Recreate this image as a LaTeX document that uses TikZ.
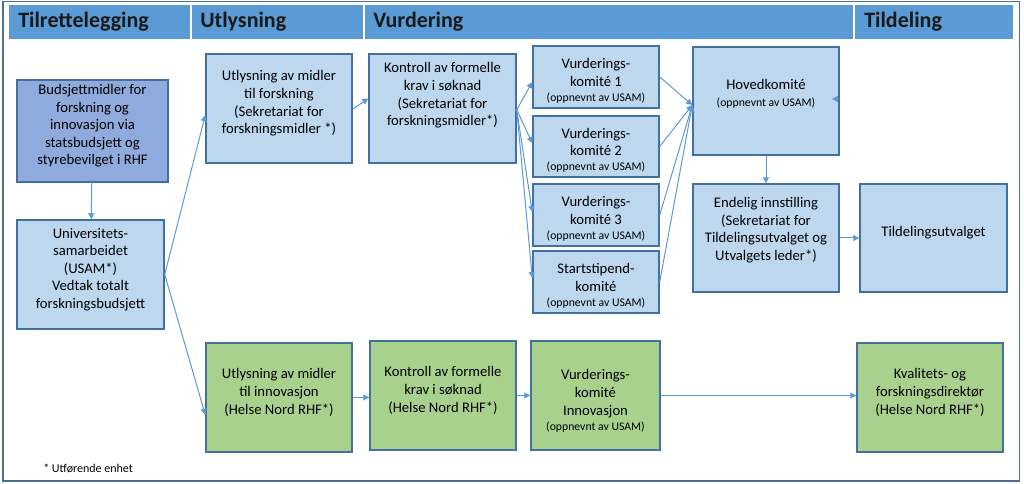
\documentclass[tikz,border=0pt]{standalone}
\usepackage{fontspec}
\setmainfont{Carlito}
\usetikzlibrary{fit,arrows.meta}
\definecolor{band}{HTML}{5B9BD5}
\definecolor{lblue}{HTML}{BDD7EE}
\definecolor{mblue}{HTML}{8FAADC}
\definecolor{lgreen}{HTML}{A9D18E}
\definecolor{bord}{HTML}{41719C}
\definecolor{arrc}{HTML}{5B9BD5}
\definecolor{frm}{HTML}{4F6F8F}
\newcommand\mainsz{\fontsize{11}{13.2}\selectfont}
\newcommand\smsz{\fontsize{8.8}{10.5}\selectfont}
\newcommand\hdsz{\fontsize{16.5}{19}\selectfont\bfseries}
\tikzset{
  box/.style={draw=bord, line width=1.1pt, fill=lblue, inner sep=0pt, align=center, font=\mainsz, text=black},
  gbox/.style={box, fill=lgreen},
  txt/.style={align=center, font=\mainsz, inner sep=0pt, text=black},
  hd/.style={anchor=west, font=\hdsz, text=black!90, inner sep=0pt},
  arr/.style={draw=arrc, line width=0.75pt, -{Triangle[length=4.5pt,width=4.5pt]}},
}
\begin{document}
\begin{tikzpicture}[x=0.75pt,y=-0.75pt]
\useasboundingbox (0,0) rectangle (1024,484);
\fill[white] (0,0) rectangle (1024,484);
% outer frame
\draw[frm, line width=1.2pt] (3,1.5) rectangle (1019.5,481);
% header band
\fill[band] (9,5) rectangle (1013,39);
\foreach \xx in {191,364,854} \draw[white, line width=1.5pt] (\xx,5) -- (\xx,39);
\node[hd] (h1) at (18,22) {Tilrettelegging};
\node[hd] (h2) at (200,22) {Utlysning};
\node[hd] (h3) at (373,22) {Vurdering};
\node[hd] (h4) at (864,22) {Tildeling};
% boxes
\node[box, fill=mblue, fit={(17,80) (168,182)}] (bud) {Budsjettmidler for\\forskning og\\innovasjon via\\statsbudsjett og\\styrebevilget i RHF};
\node[box, fit={(17,220) (164,329)}] (uni) {Universitets-\\samarbeidet\\(USAM*)\\Vedtak totalt\\forskningsbudsjett};
\node[box, fit={(206,54) (352,163)}] (utl) {Utlysning av midler\\til forskning\\(Sekretariat for\\forskningsmidler *)};
\node[box, fit={(369,54) (516,163)}, label={[txt,yshift=9.75pt]center:{Kontroll av formelle\\krav i søknad\\(Sekretariat for\\forskningsmidler*)}}] (kon) {};
\node[box, fit={(533,46) (659,108)}, label={[txt,yshift=-3pt]center:{Vurderings-\\komité 1\\[-2pt]{\smsz (oppnevnt av USAM)}}}] (vk1) {};
\node[box, fit={(533,116) (659,177)}, label={[txt,yshift=-3pt]center:{Vurderings-\\komité 2\\[-2pt]{\smsz (oppnevnt av USAM)}}}] (vk2) {};
\node[box, fit={(533,184) (659,246)}, label={[txt,yshift=-3pt]center:{Vurderings-\\komité 3\\[-2pt]{\smsz (oppnevnt av USAM)}}}] (vk3) {};
\node[box, fit={(533,251) (659,313)}, label={[txt,yshift=-3pt]center:{Startstipend-\\komité\\[-2pt]{\smsz (oppnevnt av USAM)}}}] (ss) {};
\node[box, fit={(693,47) (839,155)}, label={[txt,yshift=5.25pt]center:{Hovedkomité\\{\smsz (oppnevnt av USAM)}}}] (hov) {};
\node[box, fit={(693,184) (839,292)}, label={[txt,yshift=6pt]center:{Endelig innstilling\\(Sekretariat for\\Tildelingsutvalget og\\Utvalgets leder*)}}] (end) {};
\node[box, fit={(860,184) (1007,292)}] (til) {Tildelingsutvalget};
\node[gbox, fit={(206,343) (352,452)}] (gutl) {Utlysning av midler\\til innovasjon\\(Helse Nord RHF*)};
\node[gbox, fit={(370,341) (516,450)}] (gkon) {Kontroll av formelle\\krav i søknad\\(Helse Nord RHF*)};
\node[gbox, fit={(531,341) (660,450)}, label={[txt,yshift=-4pt]center:{Vurderings-\\komité\\Innovasjon\\[-2pt]{\smsz (oppnevnt av USAM)}}}] (gvk) {};
\node[gbox, fit={(857,343) (1003,452)}] (kval) {Kvalitets- og\\forskningsdirektør\\(Helse Nord RHF*)};
% footnote
\node[anchor=west, font=\fontsize{9}{10}\selectfont, inner sep=0pt] (fn) at (43,468) {* Utførende enhet};
% connectors
\draw[arr] (bud) -- (uni);
\draw[arr] (uni.east) -- ([yshift=-5pt]utl.west);
\draw[arr] (uni.east) -- ([yshift=-13pt]gutl.west);
\draw[arr] ([yshift=-0.5pt]utl.east) -- ([yshift=7.5pt]kon.west);
\draw[arr] ([yshift=-1pt]kon.east) -- ([yshift=-3.75pt]vk1.west);
\draw[arr] ([yshift=-1pt]kon.east) -- ([yshift=2.6pt]vk2.west);
\draw[arr] ([yshift=-1pt]kon.east) -- ([yshift=2.25pt]vk3.west);
\draw[arr] ([yshift=-1pt]kon.east) -- ([yshift=3pt]ss.west);
\coordinate (hin) at ([yshift=-3pt]hov.west);
\draw[arr] (vk1.east) -- (hin);
\draw[arr] (vk2.east) -- (hin);
\draw[arr] (vk3.east) -- (hin);
\draw[arr] (ss.east) -- (hin);
\coordinate (hr) at ([xshift=-1pt,yshift=1.5pt]hov.east);
\draw[arr] (hr) -- ++(-6.5,0);
\draw[arr] (hov) -- (end);
\draw[arr] (end) -- (til);
\draw[arr] (gutl.east) -- (gutl.east -| gkon.west);
\draw[arr] (gkon) -- (gvk);
\draw[arr] (gvk.east) -- (gvk.east -| kval.west);
\end{tikzpicture}
\end{document}
